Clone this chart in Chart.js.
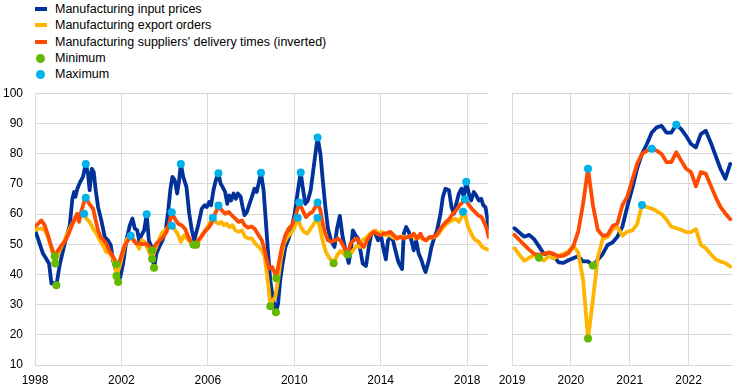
<!DOCTYPE html>
<html><head><meta charset="utf-8">
<script src="https://cdn.jsdelivr.net/npm/chart.js@4/dist/chart.umd.min.js"></script>
<style>
body{margin:0;width:742px;height:392px;background:#fff;position:relative;overflow:hidden;font-family:"Liberation Sans",Arial,sans-serif;}
.lg{position:absolute;left:0;height:16px;line-height:16px;font-size:12.5px;color:#000;white-space:nowrap;}
.lg .t{position:absolute;left:55px;top:0;}
.lg .ln{position:absolute;left:35px;top:6px;width:12px;height:4px;}
.lg .dt{position:absolute;left:36px;top:3.5px;width:9px;height:9px;border-radius:50%;}
canvas{position:absolute;top:80px;}
</style></head><body>
<div class="lg" style="top:1px"><span class="ln" style="background:#003299"></span><span class="t">Manufacturing input prices</span></div>
<div class="lg" style="top:17.3px"><span class="ln" style="background:#ffb400"></span><span class="t">Manufacturing export orders</span></div>
<div class="lg" style="top:33.7px"><span class="ln" style="background:#ff4b00"></span><span class="t">Manufacturing suppliers' delivery times (inverted)</span></div>
<div class="lg" style="top:50px"><span class="dt" style="background:#65b800"></span><span class="t">Minimum</span></div>
<div class="lg" style="top:66.3px"><span class="dt" style="background:#00b1ea"></span><span class="t">Maximum</span></div>
<canvas id="c1" width="495" height="312" style="left:0"></canvas>
<canvas id="c2" width="247" height="312" style="left:495px"></canvas>
<script>
// ---- Left panel (1998-2018), dates in decimal years ----
const inputX = [1998.00,1998.37,1998.52,1998.65,1998.76,1998.87,1998.99,1999.14,1999.30,1999.45,1999.61,1999.73,1999.81,1999.87,1999.96,2000.07,2000.22,2000.35,2000.45,2000.53,2000.63,2000.72,2000.81,2000.92,2001.07,2001.23,2001.38,2001.51,2001.61,2001.77,2001.85,2001.95,2002.08,2002.23,2002.39,2002.51,2002.62,2002.73,2002.82,2002.93,2003.05,2003.17,2003.27,2003.39,2003.51,2003.62,2003.75,2003.90,2004.05,2004.16,2004.27,2004.36,2004.47,2004.58,2004.67,2004.75,2004.86,2005.01,2005.14,2005.26,2005.37,2005.57,2005.72,2005.85,2005.95,2006.06,2006.15,2006.26,2006.37,2006.49,2006.59,2006.68,2006.80,2006.90,2006.99,2007.08,2007.19,2007.30,2007.39,2007.52,2007.61,2007.70,2007.81,2007.93,2008.04,2008.16,2008.26,2008.35,2008.46,2008.58,2008.66,2008.78,2008.89,2009.00,2009.15,2009.25,2009.35,2009.46,2009.59,2009.71,2009.86,2010.02,2010.17,2010.30,2010.39,2010.51,2010.63,2010.76,2010.90,2011.00,2011.08,2011.21,2011.32,2011.44,2011.56,2011.70,2011.86,2011.98,2012.11,2012.24,2012.37,2012.52,2012.62,2012.71,2012.83,2012.95,2013.06,2013.17,2013.32,2013.45,2013.57,2013.72,2013.88,2014.00,2014.11,2014.24,2014.34,2014.45,2014.57,2014.68,2014.82,2014.99,2015.07,2015.18,2015.30,2015.42,2015.53,2015.64,2015.76,2015.89,2016.01,2016.08,2016.23,2016.35,2016.49,2016.61,2016.77,2016.88,2017.00,2017.16,2017.28,2017.39,2017.50,2017.62,2017.74,2017.85,2017.96,2018.08,2018.19,2018.31,2018.42,2018.54,2018.65,2018.75,2018.85,2018.93,2018.99];
const inputY = [54.8,46.9,45.2,43.6,37.0,37.2,36.4,43.0,48.0,52.4,56.3,65.1,67.3,65.7,68.4,70.3,72.3,76.6,73.4,67.9,75.0,73.9,67.9,62.3,57.9,52.4,51.3,49.6,44.7,40.8,37.5,39.2,43.6,51.3,56.3,58.5,55.2,54.6,51.3,53.0,54.6,59.9,51.3,49.1,42.2,46.9,49.1,51.3,54.6,60.7,68.4,72.3,71.2,66.8,71.2,76.6,72.3,69.0,60.1,54.6,51.3,56.8,61.8,62.9,62.3,64.0,62.9,67.9,71.2,73.5,70.1,69.0,67.3,63.4,66.2,64.5,66.8,65.1,66.8,65.7,62.3,59.6,60.7,63.4,65.7,68.4,67.3,70.1,73.7,67.9,60.1,48.0,38.1,32.5,27.5,30.3,38.1,43.6,49.1,51.3,54.6,60.1,67.9,73.8,69.0,63.4,64.5,67.9,75.6,81.1,85.4,80.0,71.2,62.3,55.2,51.3,49.1,55.2,59.4,52.4,48.0,43.8,48.0,54.6,53.0,51.9,48.0,43.6,42.8,49.1,53.5,54.1,51.3,53.5,49.1,45.0,51.3,52.4,51.3,48.0,44.1,41.8,53.5,55.7,54.1,51.3,48.0,51.3,46.9,44.7,41.9,40.8,44.7,49.1,52.4,54.6,60.1,65.7,68.4,67.9,62.3,60.1,63.4,66.8,68.4,65.7,70.7,66.8,64.5,67.3,66.2,64.5,65.1,62.9,62.3,59.0,55.5];
const exportX = [1998.00,1998.14,1998.29,1998.45,1998.60,1998.76,1998.94,1999.07,1999.22,1999.37,1999.53,1999.68,1999.84,2000.00,2000.15,2000.27,2000.38,2000.53,2000.69,2000.84,2001.00,2001.15,2001.30,2001.46,2001.61,2001.70,2001.77,2001.91,2002.08,2002.23,2002.39,2002.54,2002.70,2002.82,2002.94,2003.07,2003.19,2003.31,2003.42,2003.55,2003.70,2003.86,2004.01,2004.16,2004.33,2004.44,2004.60,2004.75,2004.91,2005.03,2005.18,2005.30,2005.46,2005.57,2005.72,2005.88,2006.03,2006.15,2006.23,2006.37,2006.50,2006.62,2006.74,2006.87,2006.99,2007.14,2007.27,2007.42,2007.58,2007.73,2007.89,2008.04,2008.20,2008.35,2008.50,2008.63,2008.73,2008.81,2008.89,2009.01,2009.12,2009.25,2009.37,2009.52,2009.68,2009.83,2009.99,2010.16,2010.30,2010.45,2010.60,2010.76,2010.91,2011.08,2011.21,2011.35,2011.47,2011.59,2011.72,2011.82,2011.98,2012.13,2012.28,2012.45,2012.60,2012.75,2012.90,2013.05,2013.14,2013.29,2013.45,2013.60,2013.76,2013.91,2014.06,2014.22,2014.37,2014.53,2014.68,2014.84,2014.99,2015.15,2015.30,2015.45,2015.61,2015.76,2015.92,2016.07,2016.23,2016.38,2016.54,2016.69,2016.85,2017.00,2017.16,2017.31,2017.46,2017.62,2017.74,2017.81,2017.93,2018.05,2018.16,2018.27,2018.39,2018.54,2018.70,2018.85,2018.99];
const exportY = [54.6,55.2,55.2,54.6,52.4,48.5,43.6,46.9,49.1,51.3,54.1,56.3,57.9,59.0,59.6,60.1,58.5,57.4,55.2,53.5,51.3,49.6,47.4,46.9,45.2,43.0,39.5,42.5,47.4,51.3,53.0,51.9,50.2,48.5,51.3,50.8,49.1,46.9,45.1,48.0,50.8,53.5,54.6,55.7,56.1,55.2,53.5,50.8,53.0,51.9,50.8,50.0,49.8,50.8,53.0,54.6,56.3,57.9,58.8,57.4,56.8,57.4,56.3,56.8,55.7,56.3,54.6,54.1,54.6,52.4,51.9,51.9,50.2,49.1,48.0,45.8,40.3,35.9,29.5,31.4,32.5,38.1,44.7,50.2,52.4,53.5,55.2,58.8,55.7,54.1,53.5,55.2,56.8,58.8,54.6,50.2,47.4,45.8,44.7,43.7,46.3,47.8,46.8,46.2,46.8,48.2,49.6,49.1,51.3,51.9,53.0,54.1,54.6,53.5,54.1,53.0,53.2,52.4,51.9,52.4,52.6,52.2,52.4,53.0,51.9,52.4,51.9,51.3,51.9,52.2,52.4,53.5,55.2,56.3,57.4,57.9,58.5,57.4,59.0,60.8,59.0,55.7,54.1,52.4,51.3,50.8,49.1,48.5,48.2];
const supplierX = [1998.00,1998.14,1998.29,1998.45,1998.60,1998.76,1998.91,1999.07,1999.22,1999.37,1999.53,1999.68,1999.84,1999.95,2000.04,2000.15,2000.27,2000.35,2000.46,2000.56,2000.69,2000.81,2000.92,2001.04,2001.18,2001.30,2001.43,2001.58,2001.70,2001.77,2001.88,2002.00,2002.15,2002.31,2002.43,2002.55,2002.70,2002.85,2003.00,2003.15,2003.28,2003.42,2003.52,2003.62,2003.78,2003.93,2004.09,2004.21,2004.33,2004.47,2004.63,2004.78,2004.94,2005.10,2005.22,2005.34,2005.54,2005.69,2005.85,2006.00,2006.16,2006.31,2006.49,2006.65,2006.80,2006.96,2007.11,2007.27,2007.42,2007.58,2007.70,2007.86,2008.01,2008.16,2008.35,2008.50,2008.63,2008.73,2008.84,2008.97,2009.08,2009.17,2009.28,2009.43,2009.59,2009.74,2009.89,2010.05,2010.23,2010.39,2010.54,2010.70,2010.85,2011.01,2011.08,2011.21,2011.32,2011.44,2011.56,2011.72,2011.87,2012.03,2012.18,2012.33,2012.47,2012.60,2012.75,2012.91,2013.06,2013.22,2013.37,2013.52,2013.68,2013.83,2013.99,2014.14,2014.30,2014.45,2014.60,2014.76,2014.91,2015.06,2015.22,2015.38,2015.53,2015.69,2015.84,2015.95,2016.10,2016.26,2016.41,2016.57,2016.72,2016.88,2017.03,2017.19,2017.34,2017.49,2017.65,2017.80,2017.90,2018.05,2018.21,2018.36,2018.51,2018.67,2018.82,2018.93,2018.99];
const supplierY = [55.9,56.8,57.9,56.3,53.0,49.1,46.0,48.0,49.6,50.8,53.0,55.7,58.5,60.1,57.4,61.2,64.0,65.4,64.0,62.9,61.8,57.9,54.6,52.4,51.3,50.2,48.0,46.3,44.7,43.4,43.6,46.3,49.6,51.3,52.8,51.3,50.2,50.2,50.0,50.2,49.3,47.9,49.1,50.2,51.3,52.4,54.1,56.8,60.6,58.5,56.8,56.3,55.2,52.4,50.8,49.8,51.3,52.4,54.1,55.2,56.8,59.6,62.8,61.2,60.1,60.7,59.6,58.5,57.4,57.9,56.3,55.5,55.9,55.2,53.0,51.3,48.0,44.7,41.9,42.5,40.8,38.7,43.6,49.1,53.0,55.2,56.3,59.0,63.8,61.2,59.0,60.1,60.7,62.9,63.8,61.2,56.8,53.5,51.3,50.8,51.3,51.9,50.8,48.5,46.6,50.2,51.3,51.9,50.2,49.1,51.3,53.0,54.1,53.5,53.0,53.5,53.7,54.1,53.0,51.9,52.4,51.9,52.4,52.4,53.5,51.9,53.5,51.9,51.3,52.4,52.4,53.0,54.6,56.3,57.4,58.5,60.1,61.2,62.9,64.0,64.9,63.4,61.8,60.7,59.6,59.0,56.8,54.6,52.4];
const minLeft = [[1998.91,46.0],[1998.94,43.6],[1998.99,36.4],[2001.77,43.4],[2001.77,39.5],[2001.85,37.5],[2003.42,47.9],[2003.42,45.1],[2003.51,42.2],[2005.34,49.8],[2005.46,49.8],[2008.89,29.5],[2009.15,27.5],[2009.17,38.7],[2011.82,43.7],[2012.47,46.6]];
const maxLeft = [[2000.35,76.6],[2000.35,65.4],[2000.27,60.1],[2002.43,52.8],[2003.17,59.9],[2004.75,76.6],[2004.33,60.6],[2004.33,56.1],[2006.49,73.5],[2006.49,62.8],[2006.23,58.8],[2008.46,73.7],[2010.30,73.8],[2010.23,63.8],[2010.16,58.8],[2011.08,85.4],[2011.08,63.8],[2011.08,58.8],[2017.96,70.7],[2017.90,64.9],[2017.81,60.8]];
const leftTicks = [1998,2002,2006,2010,2014,2018];

// ---- Right panel (Jan 2019 - Sep 2022), monthly ----
const months = [];
for (let y = 2019; y <= 2022; y++) for (let m = 1; m <= 12; m++) if (y < 2022 || m <= 9) months.push(y + '-' + String(m).padStart(2,'0'));
const inputR = [55.3,53.9,52.5,53.1,51.7,49.3,46.8,46.5,46.2,44.0,43.8,44.7,45.4,46.0,44.3,44.3,43.0,44.9,46.8,49.8,50.6,52.5,55.8,62.4,68.4,75.0,79.9,83.2,87.0,88.7,89.2,87.0,87.0,89.6,88.1,85.9,83.2,82.1,86.5,87.6,83.8,79.4,75.0,71.7,76.6];
const exportR = [48.7,46.5,44.5,45.5,46.3,45.5,44.6,46.1,45.3,46.2,46.8,47.6,49.5,47.3,38.2,18.8,31.6,45.8,51.8,52.4,55.0,55.7,52.8,54.2,54.5,56.6,63.0,62.3,61.8,61.0,60.0,58.2,55.8,55.3,54.8,54.0,54.0,55.0,49.8,48.7,46.8,45.0,44.3,43.8,42.6];
const supplierR = [53.1,51.4,49.8,48.2,46.8,46.5,46.8,47.3,46.8,46.0,46.2,47.1,49.3,54.2,63.5,75.0,62.9,54.7,52.8,53.1,56.0,56.9,62.9,65.7,71.2,76.6,79.9,81.0,81.6,81.0,79.9,77.2,77.2,80.5,77.7,75.0,73.9,69.2,73.9,73.4,69.5,65.7,62.4,60.2,58.3];
const minRight = [['2019-06',45.5],['2020-04',18.8],['2020-05',43.0]];
const maxRight = [['2020-04',75.0],['2021-05',81.6],['2021-10',89.6],['2021-03',63.0]];
const rightTicks = [2019,2020,2021,2022];
const yTickValues = [10,20,30,40,50,60,70,80,90,100];

const C = {blue:'#003299', yellow:'#ffb400', red:'#ff4b00', green:'#65b800', cyan:'#00b1ea', grid:'#d9d9d9'};
const FONT = {family:'"Liberation Sans", Arial, sans-serif', size:12};
const toX = s => { const [y,m] = s.split('-').map(Number); return y + (m - 0.5) / 12; };

function lineDs(xs, ys, color, order) {
  return {type:'line', data: xs.map((x,i)=>({x, y: ys[i]})), borderColor: color, borderWidth: 3.8,
    pointRadius: 0, tension: 0, fill: false, borderJoinStyle: 'round', borderCapStyle: 'round', order};
}
function dotDs(pts, color) {
  return {type:'scatter', data: pts.map(p=>({x:p[0], y:p[1]})), backgroundColor: color, borderWidth: 0,
    pointRadius: 4, pointHoverRadius: 4, order: 0};
}
function opts(ticks, xmin, xmax, showY, yWidth, padRight) {
  return {
    responsive: false, animation: false, events: [],
    layout: {padding: {top: 13.3, right: padRight, bottom: 0, left: 0}},
    plugins: {legend: {display: false}, tooltip: {enabled: false}},
    scales: {
      x: {type: 'linear', min: xmin, max: xmax,
        afterBuildTicks: s => { s.ticks = ticks.map(v => ({value: v})); },
        afterFit: s => { s.height = 27; s.paddingLeft = 0; s.paddingRight = 0; },
        grid: {color: C.grid, lineWidth: 1, drawTicks: false},
        border: {color: C.grid},
        ticks: {font: FONT, color: '#000', padding: 8, maxRotation: 0, autoSkip: false, callback: v => String(v)}},
      y: {min: 10, max: 100,
        afterBuildTicks: s => { s.ticks = yTickValues.map(v => ({value: v})); },
        afterFit: s => { s.width = yWidth; s.paddingTop = 0; s.paddingBottom = 0; },
        grid: {color: C.grid, lineWidth: 1, drawTicks: false},
        border: {color: C.grid},
        ticks: {display: showY, font: FONT, color: '#000', padding: 12, callback: v => String(v)}}
    }
  };
}

new Chart(document.getElementById('c1'), {
  type: 'line',
  data: {datasets: [
    dotDs(minLeft, C.green), dotDs(maxLeft, C.cyan),
    lineDs(supplierX, supplierY, C.red, 1),
    lineDs(exportX, exportY, C.yellow, 2),
    lineDs(inputX, inputY, C.blue, 3)
  ]},
  options: opts(leftTicks, 1998, 2019, true, 35, 6.3)
});

const mx = months.map(toX);
new Chart(document.getElementById('c2'), {
  type: 'line',
  data: {datasets: [
    dotDs(minRight.map(p=>[toX(p[0]),p[1]]), C.green), dotDs(maxRight.map(p=>[toX(p[0]),p[1]]), C.cyan),
    lineDs(mx, supplierR, C.red, 1),
    lineDs(mx, exportR, C.yellow, 2),
    lineDs(mx, inputR, C.blue, 3)
  ]},
  options: opts(rightTicks, 2019, 2022.75, false, 17, 9.3)
});
</script>
</body></html>
